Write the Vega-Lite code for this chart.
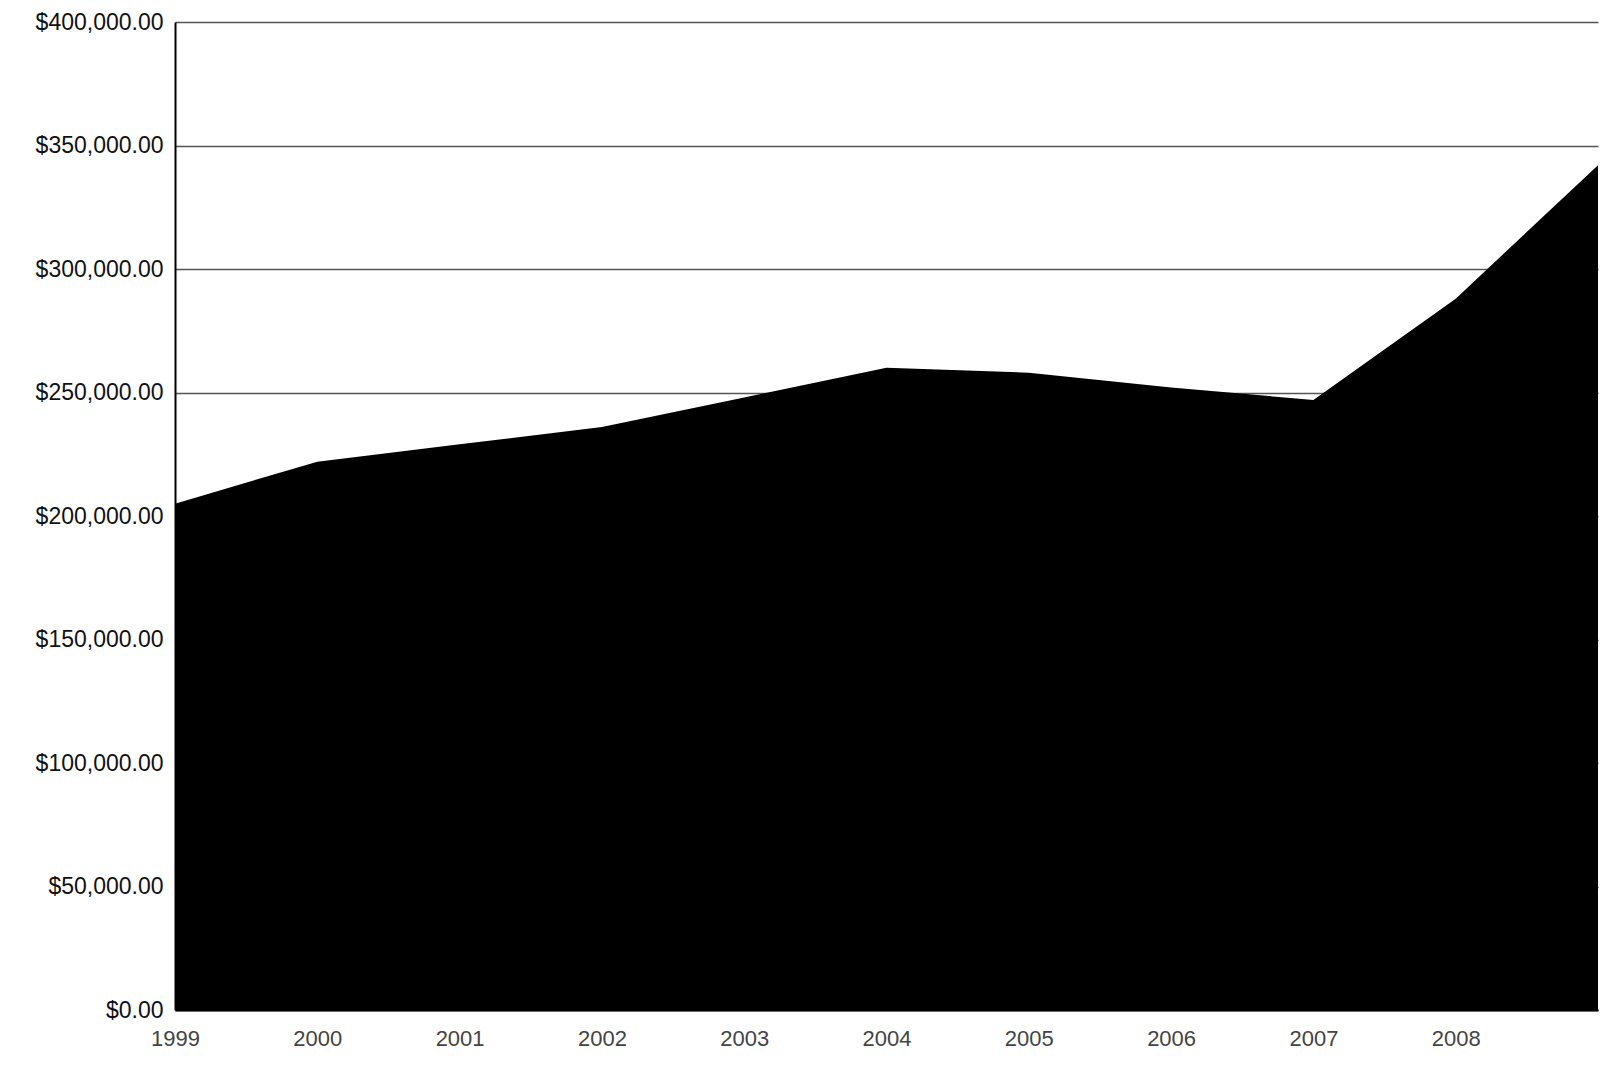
{
  "$schema": "https://vega.github.io/schema/vega-lite/v6.json",
  "autosize": "none",
  "width": 1423,
  "height": 988,
  "padding": {"left": 175, "top": 22, "right": 10, "bottom": 63},
  "background": "white",
  "data": {
    "values": [
      {"year": 1999, "value": 205000},
      {"year": 2000, "value": 222000},
      {"year": 2001, "value": 229000},
      {"year": 2002, "value": 236000},
      {"year": 2003, "value": 248000},
      {"year": 2004, "value": 260000},
      {"year": 2005, "value": 258000},
      {"year": 2006, "value": 252000},
      {"year": 2007, "value": 247000},
      {"year": 2008, "value": 288000},
      {"year": 2009, "value": 342000}
    ]
  },
  "config": {
    "view": {"stroke": null},
    "font": "Liberation Sans"
  },
  "mark": {"type": "area", "color": "black", "opacity": 1},
  "encoding": {
    "x": {
      "field": "year",
      "type": "quantitative",
      "scale": {"domain": [1999, 2009], "nice": false, "zero": false},
      "axis": {
        "title": null,
        "values": [1999, 2000, 2001, 2002, 2003, 2004, 2005, 2006, 2007, 2008],
        "format": "d",
        "grid": false,
        "ticks": false,
        "domain": true,
        "domainColor": "black",
        "domainWidth": 2,
        "labelFontSize": 22,
        "labelColor": "#444",
        "labelPadding": 18,
        "labelFlush": false
      }
    },
    "y": {
      "field": "value",
      "type": "quantitative",
      "scale": {"domain": [0, 400000], "nice": false},
      "axis": {
        "title": null,
        "values": [0, 50000, 100000, 150000, 200000, 250000, 300000, 350000, 400000],
        "format": "$,.2f",
        "grid": true,
        "gridColor": "#555",
        "gridWidth": 1.5,
        "ticks": false,
        "domain": true,
        "domainColor": "black",
        "domainWidth": 2,
        "labelFontSize": 23,
        "labelColor": "#111",
        "labelPadding": 12
      }
    }
  }
}
